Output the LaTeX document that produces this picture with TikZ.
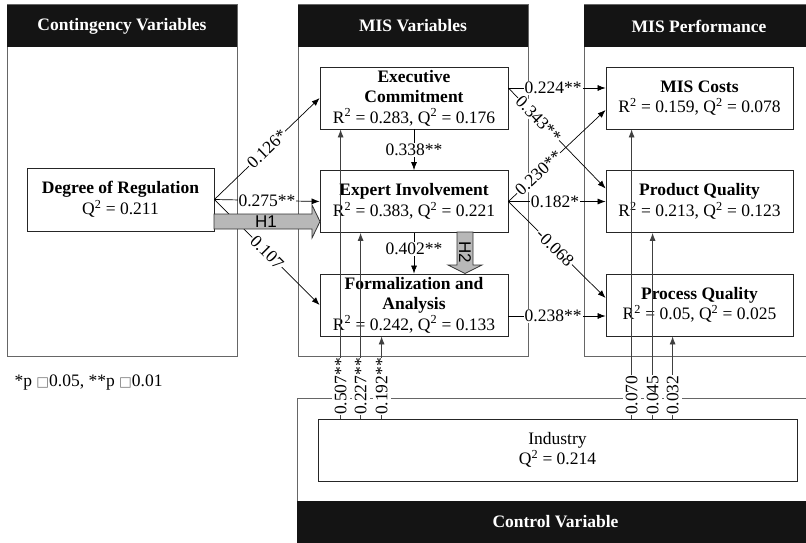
\documentclass[tikz,border=0pt]{standalone}
\usepackage{fontspec}
\setmainfont{Liberation Serif}
\newfontfamily\hypfont{Liberation Sans}
\newfontfamily\symfont{DejaVu Sans}
\usepackage{tikz}
\usetikzlibrary{arrows.meta}
\usetikzlibrary{calc}
\newcommand{\figfont}{\fontsize{17.5}{20.5}\selectfont}
\newcommand{\fitline}[2]{R\textsuperscript{2} = #1, Q\textsuperscript{2} = #2}
\newcommand{\pbox}{{\color{black!55}\symfont\fontsize{13.5}{13.5}\selectfont □}}
\tikzset{
  panel/.style={draw=black!60, line width=1pt},
  headbox/.style={fill=black!92, text=white, font=\figfont\bfseries, minimum width=230pt, minimum height=42pt, inner sep=0pt},
  varbox/.style={draw=black!85, fill=white, line width=0.8pt, minimum width=188pt, minimum height=62pt, align=center, inner sep=0pt},
  link/.style={draw=black, line width=0.7pt, -{Latex[length=8pt,width=6pt]}},
  coef/.style={fill=white, inner sep=1pt},
  ctrl/.style={draw=black!75, line width=0.8pt, -{Latex[length=8pt,width=6pt]}},
  ctrlcoef/.style={fill=white, rotate=90, anchor=west, inner xsep=0.5pt, inner ysep=3pt},
  hyp/.style={draw=black!80, fill=black!28, line width=0.8pt},
  hyplab/.style={font=\hypfont\fontsize{17}{17}\selectfont, inner sep=0pt}
}
\begin{document}
\begin{tikzpicture}[x=1pt, y=-1pt, font=\figfont]
\useasboundingbox (0,0) rectangle (806,543);
\clip (0,0) rectangle (806,543);
\draw[panel] (7,5) rectangle (237,356);
\draw[panel] (298,5) rectangle (528,356);
\draw[panel] (584,5) rectangle (814,356);
\draw[panel] (297,398) rectangle (814,560);
\node[headbox] (hcont) at (122,26) {Contingency Variables};
\node[headbox] (hmis) at (413,26) {MIS Variables};
\node[headbox] (hperf) at (699,26) {MIS Performance};
\node[headbox, minimum width=517pt] (hctrl) at (555.5,522) {Control Variable};

\node[varbox, minimum width=187pt, minimum height=63pt] (dr) at (120.5,199.5) {\textbf{Degree of Regulation}\\Q\textsuperscript{2} = 0.211};
\node[varbox] (ec) at (414,98) {\textbf{Executive}\\\textbf{Commitment}\\\fitline{0.283}{0.176}};
\node[varbox] (ei) at (414,201.5) {\textbf{Expert Involvement}\\\fitline{0.383}{0.221}};
\node[varbox] (fa) at (414,305) {\textbf{Formalization and}\\\textbf{Analysis}\\\fitline{0.242}{0.133}};
\node[varbox, minimum width=187pt] (mc) at (699.5,98) {\textbf{MIS Costs}\\\fitline{0.159}{0.078}};
\node[varbox, minimum width=187pt] (pq) at (699.5,201.5) {\textbf{Product Quality}\\\fitline{0.213}{0.123}};
\node[varbox, minimum width=187pt] (prq) at (699.5,305) {\textbf{Process Quality}\\\fitline{0.05}{0.025}};
\node[varbox, minimum width=479pt] (ind) at (557.5,450) {Industry\\Q\textsuperscript{2} = 0.214};
\node[anchor=west] (fn) at (11,383) {*p \pbox0.05, **p \pbox0.01};

\draw[link] (dr.east) -- node[coef, sloped] {0.126*} (ec.west);
\draw[link] (dr.east) -- node[coef] {0.275**} (ei.west);
\draw[link] (dr.east) -- node[coef, sloped] {0.107} (fa.west);
\draw[hyp] (214,214) -- (312,214) -- (312,205) -- (320,221.5) -- (312,238) -- (312,229) -- (214,229) -- cycle;
\node[hyplab] (h1) at (266,222) {H1};

\draw[link] (ec.south) -- node[coef] {0.338**} (ei.north);
\draw[link] (ei.south) -- node[coef, pos=.4] {0.402**} (fa.north);
\draw[hyp] (457,232) -- (457,265) -- (448,265) -- (465,273.5) -- (482,265) -- (473,265) -- (473,232) -- cycle;
\node[hyplab, rotate=-90] (h2) at (465,252) {H2};

\draw[link] ([yshift=10pt]ec.east) -- node[coef, pos=.46] {0.224**} ([yshift=10pt]mc.west);
\draw[link] (ei.east) -- node[coef, sloped, pos=.31] {0.230**} ([yshift=-12pt]mc.west);
\draw[link] ([yshift=10pt]ec.east) -- node[coef, sloped, pos=.31] {0.343**} ([yshift=13pt]pq.west);
\draw[link] (ei.east) -- node[coef, pos=.48] {0.182*} (pq.west);
\draw[link] (ei.east) -- node[coef, sloped, pos=.48] {-0.068} ([yshift=7pt]prq.west);
\draw[link] ([yshift=-11pt]fa.east) -- node[coef, pos=.46] {0.238**} ([yshift=-11pt]prq.west);

\foreach \tgt/\dx/\lab [count=\i] in {ec/21/0.507**, ei/41/0.227**, fa/62/0.192**, mc/26/0.070, pq/47/0.045, prq/67/0.032} {
  \coordinate (t\i) at ([xshift=\dx pt]\tgt.south west);
  \draw[ctrl] (t\i |- ind.north) -- (t\i);
  \node[ctrlcoef] (cl\i) at ($(t\i |- ind.north)+(0,-3)$) {\lab};
}
\end{tikzpicture}
\end{document}
